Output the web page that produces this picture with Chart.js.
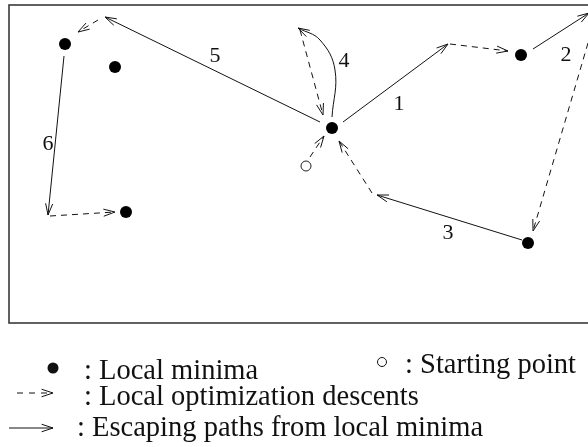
<!DOCTYPE html>
<html>
<head>
<meta charset="utf-8">
<script src="https://cdn.jsdelivr.net/npm/chart.js@4.4.1/dist/chart.umd.min.js"></script>
<style>
  html, body { margin: 0; padding: 0; background: #fff; }
  #wrap { width: 588px; height: 447px; }
</style>
</head>
<body>
<div id="wrap"><canvas id="mapa" width="588" height="447"></canvas></div>
<script>
// minimos locais e ponto inicial (coordenadas do plano, y cresce para baixo)
const minima = [[65, 44], [115, 67], [126, 212], [332, 128], [521, 55], [528, 243]];
const startPoint = [[306, 166]];

// caminhos de fuga (linha cheia), numerados 1..6
const escapeNames = ['1', '2', '3', '4', '5', '6'];
const escapePaths = [
    [[343, 122], [448, 44]],
    [[533, 49], [589, 13]],
    [[522, 240], [377, 195]],
    [[332, 117], [335, 70], [320, 40], [298, 28]],
    [[320, 122], [105, 17]],
    [[64, 56], [48, 215]]
];
const escapeLabelAt = [[399, 104], [566, 55], [448, 233], [344, 61], [215, 56], [48, 144]];

// descidas de otimizacao local (tracejadas)
const descents = [
    [[310, 157], [324, 136]],
    [[450, 44], [508, 51]],
    [[588, 43], [533, 231]],
    [[372, 193], [339, 141]],
    [[300, 30], [323, 115]],
    [[98, 20], [78, 32]],
    [[50, 216], [115, 212]]
];

// textos da legenda
const legendTexts = [': Local minima', ': Starting point', ': Local optimization descents', ': Escaping paths from local minima'];

const toXY = p => ({ x: p[0], y: p[1] });
const INK = '#111';
const SERIF = '"Liberation Serif", "DejaVu Serif", serif';

function drawHead(ctx, x, y, ang, len, spread) {
    ctx.beginPath();
    ctx.moveTo(x - len * Math.cos(ang - spread), y - len * Math.sin(ang - spread));
    ctx.lineTo(x, y);
    ctx.lineTo(x - len * Math.cos(ang + spread), y - len * Math.sin(ang + spread));
    ctx.stroke();
}

const datasets = [];
escapePaths.forEach(p => {
    datasets.push({
        data: p.map(toXY), showLine: true, borderColor: INK, borderWidth: 1,
        pointRadius: 0, tension: p.length > 2 ? 0.4 : 0, arrow: true
    });
});
descents.forEach(p => {
    datasets.push({
        data: p.map(toXY), showLine: true, borderColor: INK, borderWidth: 1,
        borderDash: [6, 5], pointRadius: 0, arrow: true
    });
});
datasets.push({ data: minima.map(toXY), pointRadius: 6, backgroundColor: '#000', borderColor: '#000', borderWidth: 0 });
datasets.push({ data: startPoint.map(toXY), pointRadius: 5, backgroundColor: '#fff', borderColor: '#222', borderWidth: 1 });

const desenho = {
    id: 'desenho',
    beforeDatasetsDraw(chart) {
        const ctx = chart.ctx, sx = chart.scales.x, sy = chart.scales.y;
        ctx.save();
        ctx.strokeStyle = '#3a3a3a';
        ctx.lineWidth = 1.6;
        ctx.strokeRect(sx.getPixelForValue(9), sy.getPixelForValue(5),
            sx.getPixelForValue(600) - sx.getPixelForValue(9), sy.getPixelForValue(323) - sy.getPixelForValue(5));
        ctx.restore();
    },
    afterDatasetsDraw(chart) {
        const ctx = chart.ctx, sx = chart.scales.x, sy = chart.scales.y;
        ctx.save();
        ctx.strokeStyle = INK;
        ctx.lineWidth = 1;
        ctx.setLineDash([]);
        chart.data.datasets.forEach((ds, i) => {
            if (!ds.arrow) return;
            const pts = chart.getDatasetMeta(i).data;
            const end = pts[pts.length - 1];
            const prev = pts[pts.length - 2];
            let fx = prev.x, fy = prev.y;
            if (ds.tension > 0 && end.cp1x !== undefined) { fx = end.cp1x; fy = end.cp1y; }
            drawHead(ctx, end.x, end.y, Math.atan2(end.y - fy, end.x - fx), 12, 0.3);
        });
        // numeros dos caminhos
        ctx.fillStyle = '#111';
        ctx.font = '22px ' + SERIF;
        ctx.textAlign = 'center';
        ctx.textBaseline = 'middle';
        escapeNames.forEach((t, i) => {
            ctx.fillText(t, sx.getPixelForValue(escapeLabelAt[i][0]), sy.getPixelForValue(escapeLabelAt[i][1]));
        });
        ctx.restore();
    },
    afterDraw(chart) {
        const ctx = chart.ctx;
        ctx.save();
        ctx.fillStyle = '#111';
        ctx.strokeStyle = '#111';
        ctx.lineWidth = 1;
        // marcador minimo
        ctx.beginPath(); ctx.arc(53, 368, 5.5, 0, Math.PI * 2); ctx.fill();
        // marcador ponto inicial
        ctx.beginPath(); ctx.arc(382, 362, 4.5, 0, Math.PI * 2); ctx.stroke();
        // seta tracejada
        ctx.setLineDash([6, 6]);
        ctx.beginPath(); ctx.moveTo(17, 393); ctx.lineTo(52, 393); ctx.stroke();
        ctx.setLineDash([]);
        drawHead(ctx, 53, 393, 0, 12, 0.32);
        // seta cheia
        ctx.beginPath(); ctx.moveTo(9, 428); ctx.lineTo(53, 428); ctx.stroke();
        drawHead(ctx, 53, 428, 0, 12, 0.32);
        ctx.font = '28.5px ' + SERIF;
        ctx.textAlign = 'left';
        ctx.textBaseline = 'alphabetic';
        ctx.fillText(legendTexts[0], 84, 379);
        ctx.fillText(legendTexts[1], 405, 373);
        ctx.fillText(legendTexts[2], 84, 405);
        ctx.fillText(legendTexts[3], 77, 436);
        ctx.restore();
    }
};

new Chart(document.getElementById('mapa').getContext('2d'), {
    type: 'scatter',
    data: { datasets: datasets },
    options: {
        responsive: false,
        animation: false,
        events: [],
        layout: { padding: 0, autoPadding: false },
        plugins: { legend: { display: false }, tooltip: { enabled: false } },
        scales: {
            x: { type: 'linear', min: 0, max: 588, display: false },
            y: { type: 'linear', min: 0, max: 447, reverse: true, display: false }
        }
    },
    plugins: [desenho]
});
</script>
</body>
</html>
